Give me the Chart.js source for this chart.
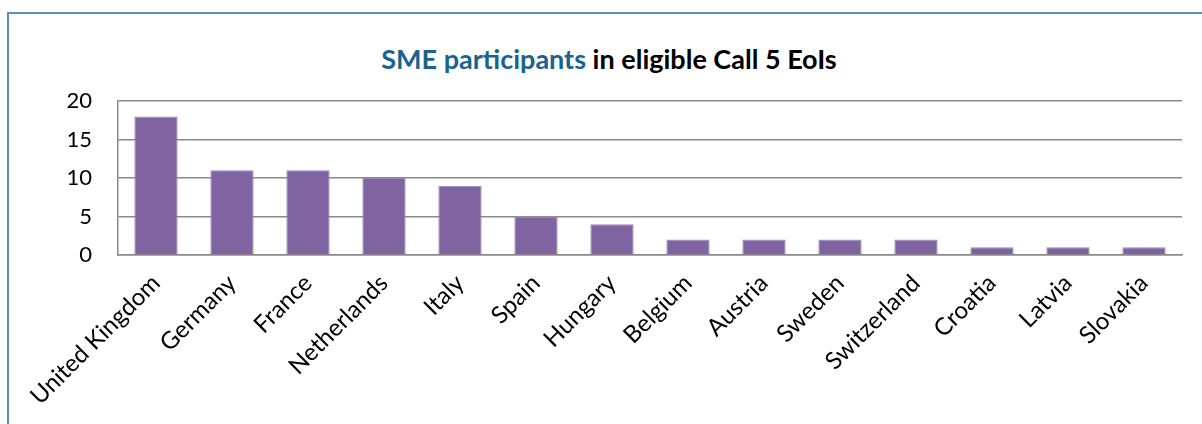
<!DOCTYPE html>
<html>
<head>
<meta charset="utf-8">
<script src="https://cdn.jsdelivr.net/npm/chart.js@4"></script>
<style>
  html, body { margin: 0; padding: 0; background: #fff; }
  body { width: 1202px; height: 424px; position: relative; overflow: hidden; }
  .frame {
    position: absolute; left: 7px; top: 12px; width: 1300px; height: 500px;
    border-left: 2px solid #5b91b9; border-top: 2px solid #5b91b9;
  }
  .chart-title {
    position: absolute; left: 0; top: 42px; width: 1218px; text-align: center;
    font-family: Lato, "Open Sans", sans-serif; font-weight: bold; font-size: 27px; color: #000;
  }
  .chart-title .hl { color: #1a6390; }
  .chart-body { position: absolute; left: 0; top: 0; width: 1202px; height: 424px; }
</style>
</head>
<body>
<div class="frame"></div>
<div class="chart-title"><span class="hl">SME participants</span> in eligible Call 5 EoIs</div>
<div class="chart-body">
  <canvas id="smeBarChart" width="1202" height="424"></canvas>
</div>
<script>
const countries = ['United Kingdom', 'Germany', 'France', 'Netherlands', 'Italy', 'Spain', 'Hungary',
  'Belgium', 'Austria', 'Sweden', 'Switzerland', 'Croatia', 'Latvia', 'Slovakia']
const smeCounts = [18, 11, 11, 10, 9, 5, 4, 2, 2, 2, 2, 1, 1, 1]
const yTicks = [0, 5, 10, 15, 20]

const gridGray = '#8a8a8a'
const fontFamily = 'Lato, "Open Sans", sans-serif'

new Chart(document.getElementById('smeBarChart'), {
  type: 'bar',
  data: {
    labels: countries,
    datasets: [{
      label: 'SME participants',
      data: smeCounts,
      backgroundColor: '#8064a2',
      borderColor: '#9b86b9',
      borderWidth: 1,
      barPercentage: 0.57,
      categoryPercentage: 1
    }]
  },
  options: {
    responsive: false, animation: false,
    layout: { padding: { top: 101, right: 20, left: 0, bottom: 0 } },
    plugins: { legend: { display: false }, tooltip: { enabled: false } },
    scales: {
      y: {
        min: yTicks[0], max: yTicks[yTicks.length - 1],
        afterBuildTicks: s => { s.ticks = yTicks.map(v => ({ value: v })) },
        afterFit: s => { s.width = 118 },
        grid: { color: gridGray, lineWidth: 1.5, drawTicks: false },
        border: { display: true, color: gridGray, width: 1.5 },
        ticks: { color: '#000', font: { family: fontFamily, size: 22 }, padding: 26 }
      },
      x: {
        afterFit: s => { s.height = 169 },
        grid: { display: false, drawTicks: false },
        border: { display: true, color: gridGray, width: 1.5 },
        ticks: { color: '#000', font: { family: fontFamily, size: 24 }, minRotation: 45, maxRotation: 45, autoSkip: false, padding: 14 }
      }
    }
  }
})
</script>
</body>
</html>
